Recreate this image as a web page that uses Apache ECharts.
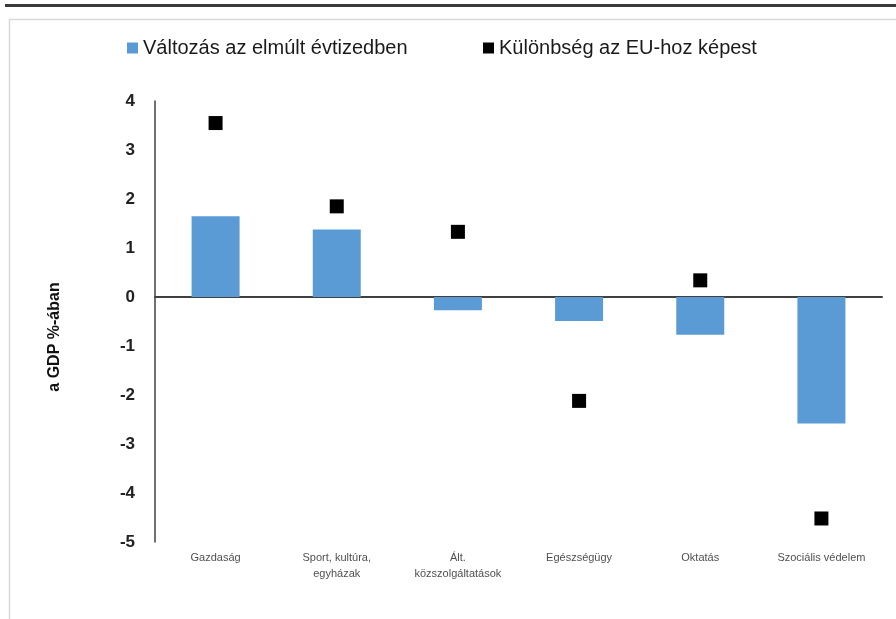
<!DOCTYPE html>
<html><head><meta charset="utf-8">
<script src="https://cdn.jsdelivr.net/npm/echarts@6/dist/echarts.min.js"></script>
<style>html,body{margin:0;padding:0;background:#fff}#c{width:896px;height:619px}</style>
</head><body><div id="c"></div>
<script>
const categories = ['Gazdaság', 'Sport, kultúra,\negyházak', 'Ált.\nközszolgáltatások', 'Egészségügy', 'Oktatás', 'Szociális védelem'];
const changeValues = [1.65, 1.38, -0.27, -0.49, -0.77, -2.58];
const euDiffValues = [3.55, 1.85, 1.33, -2.12, 0.34, -4.52];
const yTicks = { min: -5, max: 4, interval: 1 };
const seriesNames = ['Változás az elmúlt évtizedben', 'Különbség az EU-hoz képest'];
const axisTitle = 'a GDP %-ában';

const legendText = { fontSize: 20, color: '#1a1a1a', padding: [0, 0, 0, 0] };
const chart = echarts.init(document.getElementById('c'));
chart.setOption({
  animation: false,
  textStyle: { fontFamily: 'Liberation Sans, Arial, sans-serif' },
  graphic: [
    { type: 'rect', shape: { x: 5, y: 4, width: 900, height: 3 }, style: { fill: '#3a3a3a' }, silent: true },
    { type: 'rect', shape: { x: 9.5, y: 19.5, width: 900, height: 700 }, style: { fill: 'none', stroke: '#d9d9d9', lineWidth: 1.5 }, silent: true },
    { type: 'text', x: 55, y: 337, rotation: Math.PI / 2, style: { text: axisTitle, font: 'bold 16px Liberation Sans, Arial, sans-serif', fill: '#111', align: 'center', verticalAlign: 'middle' }, silent: true }
  ],
  legend: [
    {
      top: 38, left: 127, padding: 0,
      itemWidth: 11, itemHeight: 11, itemGap: 6,
      textStyle: legendText,
      data: [{ name: seriesNames[0], icon: 'rect' }]
    },
    {
      top: 38, left: 483, padding: 0,
      itemWidth: 11, itemHeight: 11, itemGap: 6,
      textStyle: legendText,
      data: [{ name: seriesNames[1], icon: 'rect' }]
    }
  ],
  grid: { left: 155, right: 14, top: 101, bottom: 77 },
  xAxis: {
    type: 'category', data: categories,
    axisLine: { onZero: true, lineStyle: { color: '#404040', width: 2 } },
    axisTick: { show: false },
    axisLabel: { show: false }
  },
  yAxis: {
    type: 'value', min: yTicks.min, max: yTicks.max, interval: yTicks.interval,
    splitLine: { show: false },
    axisLine: { show: true, lineStyle: { color: '#404040', width: 1.5 } },
    axisTick: { show: false },
    axisLabel: { margin: 20, fontSize: 17, fontWeight: 'bold', color: '#222' }
  },
  series: [
    {
      name: seriesNames[0], type: 'bar', data: changeValues,
      barWidth: 48, itemStyle: { color: '#5b9bd5' }
    },
    {
      name: seriesNames[1], type: 'scatter', data: euDiffValues,
      symbol: 'rect', symbolSize: 14, itemStyle: { color: '#000', opacity: 1 }, z: 5
    },
    {
      type: 'scatter', silent: true, symbolSize: 0,
      data: categories.map(function (c) { return [c, yTicks.min]; }),
      label: {
        show: true, position: 'bottom', distance: 8,
        formatter: function (p) { return p.name; },
        fontSize: 11, lineHeight: 16, color: '#222', align: 'center'
      },
      tooltip: { show: false }
    }
  ]
});
</script></body></html>
